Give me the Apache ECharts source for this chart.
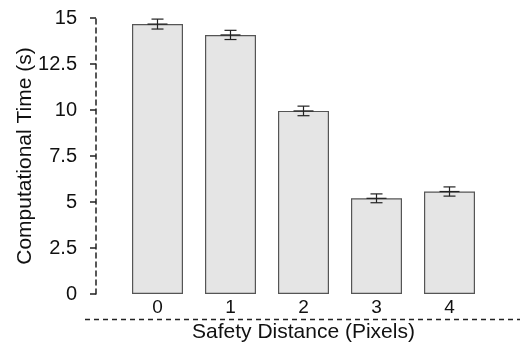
<!DOCTYPE html>
<html>
<head>
<meta charset="utf-8">
<script src="https://cdn.jsdelivr.net/npm/echarts@6/dist/echarts.min.js"></script>
<style>html,body{margin:0;padding:0;background:#fff}#c{width:522px;height:345px}</style>
</head>
<body>
<div id="c"></div>
<script>
var categories = ['0', '1', '2', '3', '4'];
var meanTimes = [14.67, 14.08, 9.95, 5.2, 5.57];
var errors = [0.27, 0.25, 0.26, 0.24, 0.25];
var yTicks = [0, 2.5, 5, 7.5, 10, 12.5, 15];

var FONT = '"Liberation Sans", Arial, sans-serif';
var chart = echarts.init(document.getElementById('c'), null, {renderer: 'canvas'});

var errData = categories.map(function (c, i) { return [i, meanTimes[i] - errors[i], meanTimes[i] + errors[i], meanTimes[i]]; });

chart.setOption({
  animation: false,
  backgroundColor: '#fff',
  grid: {left: 121, right: 36, top: 18, bottom: 51, containLabel: false, outerBoundsMode: 'none'},
  xAxis: {
    type: 'category',
    data: categories,
    axisLine: {show: false},
    axisTick: {show: false},
    axisLabel: {color: '#111', fontFamily: FONT, fontSize: 19, margin: 4},
    name: 'Safety Distance (Pixels)',
    nameLocation: 'middle',
    nameGap: 28,
    nameMoveOverlap: false,
    nameTextStyle: {color: '#111', fontFamily: FONT, fontSize: 21}
  },
  yAxis: {
    type: 'value',
    min: yTicks[0],
    max: yTicks[yTicks.length - 1],
    interval: yTicks[1] - yTicks[0],
    offset: 25,
    splitLine: {show: false},
    axisLine: {show: true, lineStyle: {color: '#222', width: 1.5, type: [5, 4]}},
    axisTick: {show: true, length: 6, lineStyle: {color: '#222', width: 1.5}},
    axisLabel: {color: '#111', fontFamily: FONT, fontSize: 20, margin: 19},
    name: 'Computational Time (s)',
    nameLocation: 'middle',
    nameGap: 60,
    nameMoveOverlap: false,
    nameTextStyle: {color: '#111', fontFamily: FONT, fontSize: 21}
  },
  graphic: [{
    type: 'line',
    shape: {x1: 85, y1: 319.5, x2: 520, y2: 319.5},
    style: {stroke: '#222', lineWidth: 1.5, lineDash: [5, 4]}
  }],
  series: [{
    type: 'bar',
    data: meanTimes,
    barWidth: 51,
    itemStyle: {color: '#e5e5e5', borderColor: '#555', borderWidth: 1.2}
  }, {
    type: 'custom',
    data: errData,
    z: 10,
    renderItem: function (params, api) {
      var x = api.value(0);
      var lo = api.coord([x, api.value(1)]);
      var hi = api.coord([x, api.value(2)]);
      var mid = api.coord([x, api.value(3)]);
      var cap = 6;
      var st = {stroke: '#222', lineWidth: 1.2};
      return {
        type: 'group',
        children: [
          {type: 'line', shape: {x1: hi[0], y1: hi[1], x2: lo[0], y2: lo[1]}, style: st},
          {type: 'line', shape: {x1: hi[0] - cap, y1: hi[1], x2: hi[0] + cap, y2: hi[1]}, style: st},
          {type: 'line', shape: {x1: lo[0] - cap, y1: lo[1], x2: lo[0] + cap, y2: lo[1]}, style: st},
          {type: 'line', shape: {x1: mid[0] - 10, y1: mid[1], x2: mid[0] + 10, y2: mid[1]}, style: st}
        ]
      };
    }
  }]
});
</script>
</body>
</html>
